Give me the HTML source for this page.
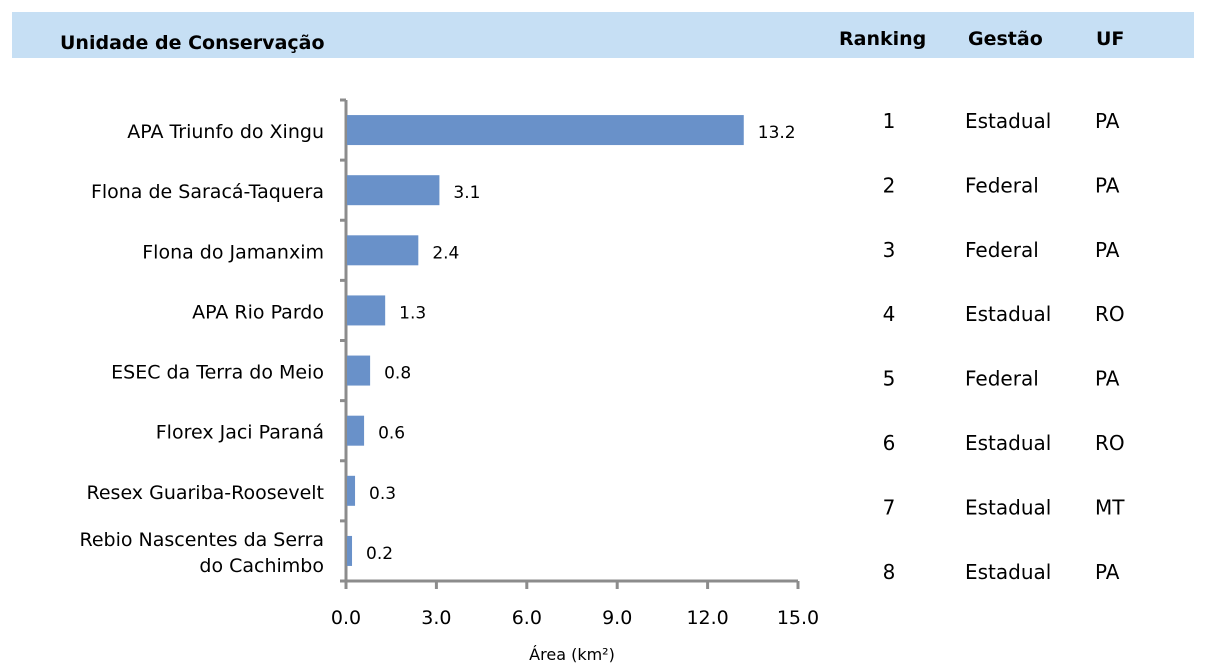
<!DOCTYPE html>
<html><head><meta charset="utf-8"><style>
body{margin:0;background:#fff;width:1208px;height:668px;overflow:hidden;font-family:"DejaVu Sans","Liberation Sans",sans-serif;}
svg text{font-family:"DejaVu Sans","Liberation Sans",sans-serif;}
</style></head><body>
<svg width="1208" height="668">
<rect x="12" y="12" width="1182" height="46" fill="#c6dff4"/>
<text x="60" y="49" font-size="19" font-weight="bold" fill="#000">Unidade de Conservação</text>
<text x="839" y="45" font-size="19" font-weight="bold">Ranking</text>
<text x="968" y="45" font-size="19" font-weight="bold">Gestão</text>
<text x="1096" y="45" font-size="19" font-weight="bold">UF</text>
<g id="plot"></g>
</svg>
<script>
const categories=["APA Triunfo do Xingu","Flona de Saracá-Taquera","Flona do Jamanxim","APA Rio Pardo","ESEC da Terra do Meio","Florex Jaci Paraná","Resex Guariba-Roosevelt","Rebio Nascentes da Serra|do Cachimbo"];
const values=[13.2,3.1,2.4,1.3,0.8,0.6,0.3,0.2];
const ticks=[0,3,6,9,12,15];
const rankings=[1,2,3,4,5,6,7,8];
const gestao=["Estadual","Federal","Federal","Estadual","Federal","Estadual","Estadual","Estadual"];
const uf=["PA","PA","PA","RO","PA","RO","MT","PA"];
const NS="http://www.w3.org/2000/svg";
const g=document.getElementById('plot');
const x0=346,x1=798,yTop=100,yBot=581;
const band=(yBot-yTop)/categories.length;
const xs=v=>x0+(v-ticks[0])/(ticks[ticks.length-1]-ticks[0])*(x1-x0);
function mk(t,a){const e=document.createElementNS(NS,t);for(const k in a)e.setAttribute(k,a[k]);g.appendChild(e);return e;}
let ax=mk('line',{x1:x0,y1:yTop,x2:x0,y2:yBot,stroke:'#8c8c8c','stroke-width':3});


let bx=mk('line',{x1:x0-6,y1:yBot,x2:x1,y2:yBot,stroke:'#8c8c8c','stroke-width':3});


for(let i=0;i<=categories.length;i++){const y=yTop+i*band;mk('line',{x1:x0-6,y1:y,x2:x0,y2:y,stroke:'#8c8c8c','stroke-width':3});}
ticks.forEach(t=>{const x=xs(t);mk('line',{x1:x,y1:yBot,x2:x,y2:yBot+8,stroke:'#8c8c8c','stroke-width':3});
const tx=mk('text',{x:x,y:yBot+43,'font-size':19,'text-anchor':'middle',fill:'#000'});tx.textContent=t.toFixed(1);

});
const xt=mk('text',{x:(x0+x1)/2,y:660,'font-size':16,'text-anchor':'middle','font-family':'Liberation Serif,serif'});xt.textContent='Área (km²)';


categories.forEach((c,i)=>{const cy=yTop+band*(i+0.5);
const b=mk('rect',{x:x0+1,y:cy-15,width:xs(values[i])-x0-1,height:30,fill:'#6991c9'});


const v=mk('text',{x:xs(values[i])+14,y:cy+8,'font-size':17});v.textContent=values[i];


const parts=c.split('|');
parts.forEach((p,j)=>{const t=mk('text',{x:324,y:cy+8+(j-(parts.length-1)/2)*26,'font-size':19,'text-anchor':'end'});t.textContent=p;

});
const ry=121+i*64.4+7;
const r=mk('text',{x:889,y:ry,'font-size':20,'text-anchor':'middle'});r.textContent=rankings[i];


const ge=mk('text',{x:965,y:ry,'font-size':20});ge.textContent=gestao[i];


const u=mk('text',{x:1095,y:ry,'font-size':20});u.textContent=uf[i];


});
</script>
</body></html>
